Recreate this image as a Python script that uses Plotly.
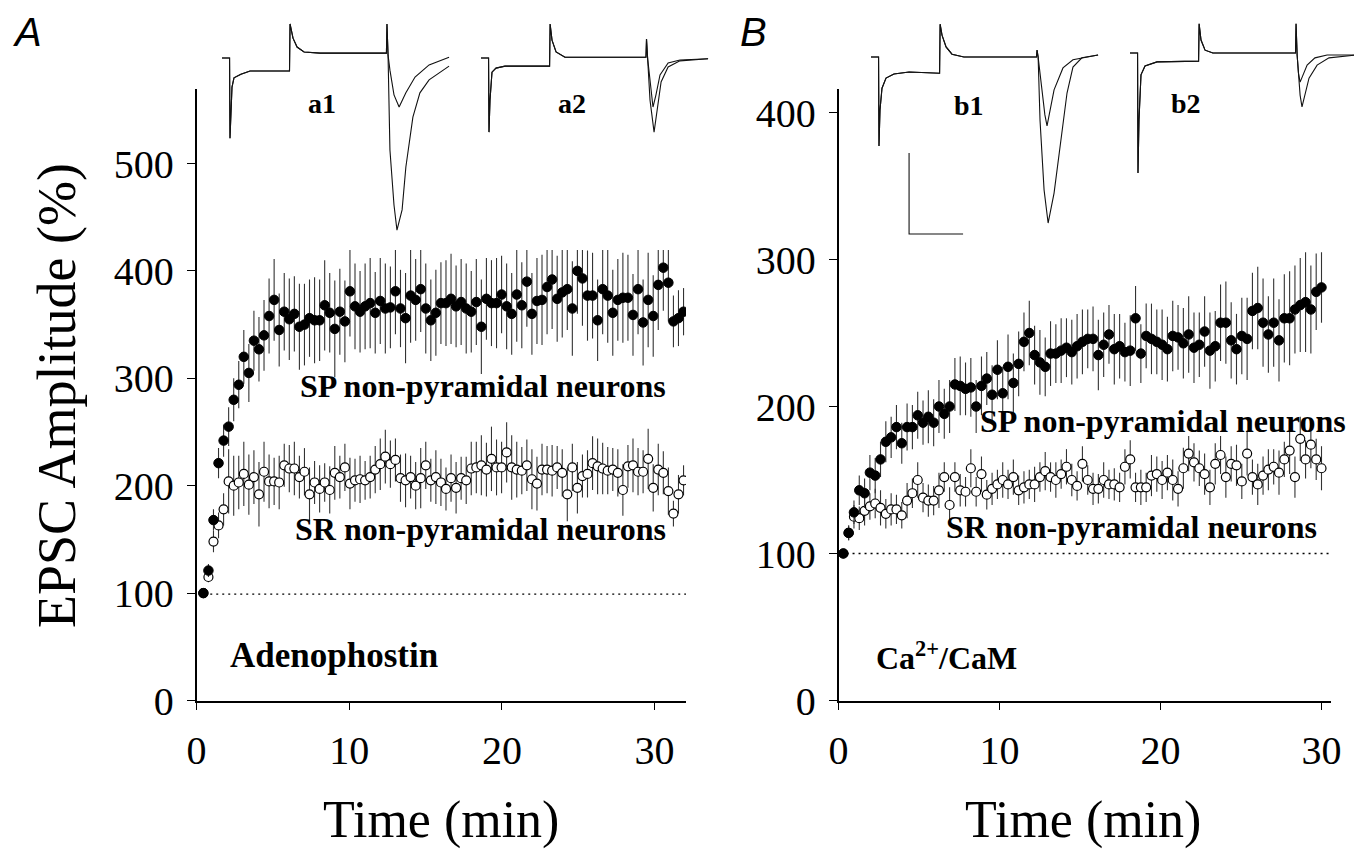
import plotly.graph_objects as go

# page body adds an 8 px margin, so the figure is 8 px smaller than the window
OFF = 8
W, H = 1362 - OFF, 851 - OFF

# ---------------- data: panel A (Adenophostin) ----------------
A_T0, A_DT = 0.45, 0.331          # first sample time and sampling interval (min)
sp_A = [100, 121, 168, 221, 242, 255, 280, 294, 320, 305, 335, 327, 340, 358, 373, 345,
        362, 355, 360, 348, 350, 356, 354, 354, 368, 361, 346, 362, 353, 381, 367, 362,
        367, 370, 361, 372, 365, 366, 381, 365, 356, 377, 373, 383, 365, 354, 361, 370,
        370, 374, 367, 371, 365, 362, 371, 348, 374, 370, 370, 378, 367, 360, 378, 368,
        390, 360, 372, 373, 385, 392, 374, 380, 383, 365, 400, 393, 377, 377, 354, 383,
        377, 361, 373, 375, 375, 359, 383, 352, 373, 358, 387, 403, 389, 353, 356, 362]
sp_A_err = [0, 6, 10, 14, 15, 18, 20, 22, 25, 27, 28, 30, 33, 35, 38, 34,
            36, 38, 35, 40, 38, 36, 40, 38, 42, 37, 45, 40, 38, 42, 40, 38,
            40, 42, 38, 40, 42, 38, 40, 36, 42, 44, 38, 40, 42, 38, 40, 38,
            40, 42, 38, 40, 42, 38, 40, 44, 38, 40, 42, 36, 40, 38, 44, 40,
            42, 38, 40, 42, 44, 46, 40, 42, 38, 44, 40, 44, 42, 40, 38, 42,
            44, 40, 38, 42, 40, 38, 42, 40, 44, 38, 42, 40, 36, 24, 26, 22]
sr_A = [100, 115, 148, 163, 178, 204, 200, 203, 211, 201, 208, 192, 213, 204, 204, 203,
        219, 216, 216, 208, 213, 192, 203, 197, 203, 196, 212, 208, 217, 202, 205, 206,
        205, 208, 215, 220, 227, 220, 224, 207, 205, 208, 200, 207, 219, 205, 208, 203,
        197, 207, 198, 207, 205, 216, 217, 219, 215, 225, 217, 217, 231, 217, 215, 214,
        219, 206, 202, 215, 215, 214, 217, 212, 192, 217, 198, 209, 211, 221, 218, 216,
        214, 215, 212, 196, 218, 219, 213, 213, 225, 198, 215, 212, 195, 174, 192, 205]
sr_A_err = [0, 5, 10, 12, 15, 30, 28, 25, 30, 28, 25, 30, 28, 25, 22, 25,
            20, 22, 25, 20, 22, 25, 20, 22, 18, 22, 25, 20, 22, 24, 20, 22,
            18, 20, 22, 24, 25, 22, 20, 22, 25, 20, 22, 28, 22, 20, 25, 22,
            20, 22, 24, 20, 22, 25, 24, 28, 25, 30, 26, 24, 28, 30, 26, 22,
            24, 28, 25, 24, 22, 24, 20, 22, 25, 22, 24, 20, 22, 25, 26, 24,
            22, 20, 22, 24, 20, 25, 22, 20, 28, 22, 24, 20, 22, 12, 18, 14]

# ---------------- data: panel B (Ca2+/CaM) ----------------
B_T0, B_DT = 0.30, 0.33
sp_B = [100, 114, 128, 143, 141, 155, 153, 164, 176, 179, 186, 175, 186, 186, 194, 189,
        193, 189, 200, 195, 200, 215, 214, 212, 213, 200, 214, 219, 208, 225, 209, 227,
        216, 229, 244, 250, 235, 230, 227, 236, 236, 238, 240, 237, 241,
        244, 246, 246, 235, 242, 249, 239, 241, 237, 238, 260, 236, 248, 246, 244, 242,
        239, 248, 247, 243, 249, 240, 242, 251, 238, 241, 257, 257, 245, 239, 248, 246,
        265, 267, 257, 249, 257, 245, 260, 260, 266, 269, 271, 266, 278, 281]
sp_B_err = [0, 5, 8, 10, 10, 12, 12, 12, 14, 14, 15, 14, 16, 15, 16, 15,
            18, 16, 18, 17, 18, 18, 20, 18, 20, 18, 20, 18, 20, 20, 18, 22,
            20, 22, 20, 22, 20, 22, 20, 22, 20, 22, 20, 22, 22,
            22, 20, 22, 24, 22, 20, 24, 22, 20, 24, 22, 20, 22, 24, 22, 24,
            22, 24, 22, 24, 26, 24, 22, 24, 26, 24, 26, 28, 26, 24, 26, 28,
            26, 28, 30, 26, 30, 28, 30, 32, 30, 32, 34, 30, 26, 24]
sr_B = [100, 114, 125, 124, 129, 132, 134, 131, 127, 130, 130, 126, 136, 141, 150, 138,
        136, 136, 143, 152, 133, 152, 143, 142, 158, 142, 154, 140, 144, 147, 150, 147,
        152, 143, 145, 147, 147, 152, 156, 152, 150, 154, 159, 150, 146, 161, 150, 144,
        144, 150, 147, 147, 145, 159, 164, 145, 145, 145, 153, 154, 150, 155, 150, 144,
        158, 168, 162, 158, 154, 145, 161, 167, 152, 161, 160, 149, 168, 152, 147, 153,
        157, 159, 155, 164, 170, 152, 178, 164, 174, 164, 158]
sr_B_err = [0, 5, 8, 8, 10, 9, 10, 12, 10, 11, 10, 9, 12, 10, 12, 10,
            11, 10, 12, 10, 12, 10, 11, 10, 13, 10, 12, 10, 11, 10, 12, 10,
            12, 10, 11, 10, 12, 10, 13, 10, 12, 10, 12, 11, 10, 12, 10, 11,
            10, 12, 10, 11, 10, 12, 13, 10, 12, 10, 14, 12, 13, 12, 14, 12,
            14, 12, 13, 12, 14, 12, 14, 13, 14, 12, 14, 12, 15, 12, 14, 13,
            14, 12, 15, 12, 16, 14, 15, 13, 16, 14, 15]

t_A = [round(A_T0 + k * A_DT, 3) for k in range(len(sp_A))]
t_B = [round(B_T0 + k * B_DT, 3) for k in range(len(sp_B))]

# ---------------- inset EPSC sweeps (ms, pA) ----------------
a1_pre_t = [0, 2.8, 2.96, 3.33, 3.7, 4.44, 7.0, 10.4, 25.0, 25.2, 26.3, 27.8, 30.4, 36.3, 60.9, 61.1, 61.5]
a1_pre_i = [0, 0, -198, -128, -72, -49, -40, -32, -32, 84, 49, 27, 15, 12, 12, 84, 7]
a1_ctl_t = [62.2, 63.7, 65.6, 68.1, 71.5, 76.7, 84.1]
a1_ctl_i = [-30, -91, -121, -86, -47, -17, 2]
a1_drug_t = [62.2, 63.7, 64.8, 66.7, 68.1, 70.7, 73.3, 76.7, 84.1]
a1_drug_i = [-227, -363, -425, -375, -269, -146, -86, -54, -20]

a2_pre_t = [0, 2.8, 2.96, 3.33, 4.07, 5.56, 8.9, 25.4, 25.6, 26.3, 27.8, 31.1, 61.1, 61.3, 61.7]
a2_pre_i = [0, 0, -183, -104, -35, -25, -20, -20, 84, 44, 15, 2, 2, 47, 0]
a2_ctl_t = [62.6, 63.7, 64.8, 66.3, 69.3, 73.7, 84.1]
a2_ctl_i = [-54, -121, -91, -42, -12, -5, -2]
a2_drug_t = [62.6, 64.1, 65.2, 66.7, 69.3, 73.7, 84.1]
a2_drug_i = [-104, -183, -128, -59, -22, -7, -2]

b1_pre_t = [0, 2.8, 2.96, 3.33, 4.07, 5.56, 8.5, 14.1, 25.4, 25.6, 26.3, 27.8, 30.0, 34.4, 61.3, 61.5, 61.9]
b1_pre_i = [0, 0, -220, -131, -77, -52, -42, -37, -40, 81, 54, 25, 7, 0, 0, 17, 0]
b1_ctl_t = [63.0, 64.4, 65.2, 67.8, 71.1, 74.8, 84.1]
b1_ctl_i = [-69, -143, -170, -81, -27, -7, 5]
b1_drug_t = [62.6, 64.1, 65.6, 67.8, 70.4, 72.6, 74.8, 78.1, 84.1]
b1_drug_i = [-156, -328, -410, -336, -205, -89, -25, -2, 5]

b2_pre_t = [0, 2.8, 2.96, 3.33, 4.07, 5.56, 10, 25.4, 25.6, 26.3, 27.8, 30.7, 61.3, 61.5, 61.9]
b2_pre_i = [0, 0, -296, -165, -54, -32, -22, -20, 72, 32, 7, 0, 0, 72, -5]
b2_ctl_t = [62.4, 63.0, 64.1, 65.6, 68.5, 73.0, 84.0]
b2_ctl_i = [-50, -72, -54, -30, -12, -5, -5]
b2_drug_t = [62.4, 63.0, 63.7, 64.8, 66.3, 69.3, 73.7, 84.0]
b2_drug_i = [-60, -104, -133, -104, -62, -30, -12, -5]

SCALE_MS, SCALE_PA = 20, 200

# ---------------- helpers (screen pixel -> paper fraction) ----------------
def px(x):
    return (x - OFF) / W

def py(y):
    return 1 - (y - OFF) / H

fig = go.Figure()

SERIF = "Liberation Serif"

def add_series(t, y, err, filled, xa, ya):
    if filled:
        marker = dict(size=9.5, color="black", line=dict(color="black", width=1))
    else:
        marker = dict(size=9, color="white", line=dict(color="black", width=1.2))
    fig.add_trace(go.Scatter(
        x=t, y=y, mode="markers", marker=marker,
        error_y=dict(type="data", array=err, visible=True, color="#333333",
                     thickness=1.1, width=0),
        xaxis=xa, yaxis=ya, showlegend=False, hoverinfo="skip"))

add_series(t_A, sr_A, sr_A_err, False, "x", "y")
add_series(t_A, sp_A, sp_A_err, True, "x", "y")
add_series(t_B, sr_B, sr_B_err, False, "x2", "y2")
add_series(t_B, sp_B, sp_B_err, True, "x2", "y2")

def add_sweep(pre_t, pre_i, tail_t, tail_i, xa, ya):
    fig.add_trace(go.Scatter(x=pre_t + tail_t, y=pre_i + tail_i, mode="lines",
                             line=dict(color="#111111", width=1.1),
                             xaxis=xa, yaxis=ya, showlegend=False, hoverinfo="skip"))

add_sweep(a1_pre_t, a1_pre_i, a1_ctl_t, a1_ctl_i, "x3", "y3")
add_sweep(a1_pre_t, a1_pre_i, a1_drug_t, a1_drug_i, "x3", "y3")
add_sweep(a2_pre_t, a2_pre_i, a2_ctl_t, a2_ctl_i, "x4", "y4")
add_sweep(a2_pre_t, a2_pre_i, a2_drug_t, a2_drug_i, "x4", "y4")
add_sweep(b1_pre_t, b1_pre_i, b1_ctl_t, b1_ctl_i, "x5", "y5")
add_sweep(b1_pre_t, b1_pre_i, b1_drug_t, b1_drug_i, "x5", "y5")
add_sweep(b2_pre_t, b2_pre_i, b2_ctl_t, b2_ctl_i, "x6", "y6")
add_sweep(b2_pre_t, b2_pre_i, b2_drug_t, b2_drug_i, "x6", "y6")

# scale bar (b1 inset coordinates)
bar_x0, bar_y0 = 14.1, -437
fig.add_trace(go.Scatter(x=[bar_x0, bar_x0, bar_x0 + SCALE_MS],
                         y=[bar_y0 + SCALE_PA, bar_y0, bar_y0],
                         mode="lines", line=dict(color="#111111", width=1.1),
                         xaxis="x5", yaxis="y5", showlegend=False, hoverinfo="skip"))

# ---------------- axes ----------------
Y0_PX, YTOP_PX = 700.5, 89
A_PX_PER_100, B_PX_PER_100 = 107.4, 147.0

axis_common = dict(showline=True, linecolor="black", linewidth=1.5, ticks="outside",
                   ticklen=8, tickwidth=1.3, tickcolor="black", showgrid=False,
                   zeroline=False, fixedrange=True, automargin=False,
                   tickfont=dict(family=SERIF, size=40, color="black"))

ydom = [py(Y0_PX), py(YTOP_PX)]
layout_axes = dict(
    xaxis=dict(domain=[px(196.5), px(686)], range=[0, (686 - 196.5) / 15.27],
               tickvals=[0, 10, 20, 30], anchor="y", ticklabelstandoff=6, **axis_common),
    yaxis=dict(domain=ydom, range=[0, (Y0_PX - YTOP_PX) / A_PX_PER_100 * 100],
               tickvals=[0, 100, 200, 300, 400, 500], anchor="x", ticklabelstandoff=5,
               **axis_common),
    xaxis2=dict(domain=[px(838.5), px(1331)], range=[0, (1331 - 838.5) / 16.1],
                tickvals=[0, 10, 20, 30], anchor="y2", ticklabelstandoff=6, **axis_common),
    yaxis2=dict(domain=ydom, range=[0, (Y0_PX - YTOP_PX) / B_PX_PER_100 * 100],
                tickvals=[0, 100, 200, 300, 400], anchor="x2", ticklabelstandoff=5,
                **axis_common),
)

# inset axes: 2.7 px per ms, 0.405 px per pA, occupying screen rows OFF..250
MS_PX, PA_PX, INSET_H = 2.7, 0.405, 250
inset_span_ms = 85
inset_specs = [("3", 222, 58), ("4", 481, 58), ("5", 871, 57), ("6", 1130, 53)]
for k, x0, base in inset_specs:
    layout_axes["xaxis" + k] = dict(domain=[px(x0), min(1.0, px(x0 + inset_span_ms * MS_PX))],
                                    range=[0, inset_span_ms], visible=False,
                                    anchor="y" + k, fixedrange=True, automargin=False)
    layout_axes["yaxis" + k] = dict(domain=[py(INSET_H), 1],
                                    range=[(base - INSET_H) / PA_PX, (base - OFF) / PA_PX],
                                    visible=False, anchor="x" + k, fixedrange=True,
                                    automargin=False)

fig.update_layout(width=W, height=H, margin=dict(l=0, r=0, t=0, b=0, pad=0),
                  paper_bgcolor="white", plot_bgcolor="white", showlegend=False,
                  hovermode=False, **layout_axes)

# baseline dotted lines at 100 %
fig.add_shape(type="line", xref="x", yref="y", x0=0.9, x1=(686 - 196.5) / 15.27, y0=99, y1=99,
              line=dict(color="black", width=1.4, dash="2px,4px"))
fig.add_shape(type="line", xref="x2", yref="y2", x0=0.5, x1=31.0, y0=100, y1=100,
              line=dict(color="black", width=1.4, dash="2px,4px"))

# ---------------- text ----------------
def note(text, x, y, size, family=SERIF, bold=False, angle=0, yanchor="middle"):
    fig.add_annotation(text=("<b>%s</b>" % text) if bold else text,
                       x=px(x), y=py(y), xref="paper", yref="paper",
                       xanchor="center", yanchor=yanchor, showarrow=False,
                       textangle=angle, font=dict(family=family, size=size, color="black"))

note("<i>A</i>", 27, OFF, 40, family="Liberation Sans", yanchor="top")
note("<i>B</i>", 753, OFF, 40, family="Liberation Sans", yanchor="top")
note("EPSC Amplitude (%)", 57, 396, 54, angle=-90)
note("Time (min)", 441, 851, 52, yanchor="bottom")
note("Time (min)", 1083, 851, 52, yanchor="bottom")
note("a1", 322, 104, 28, bold=True)
note("a2", 572, 104, 28, bold=True)
note("b1", 969, 106, 28, bold=True)
note("b2", 1186, 104, 28, bold=True)
note("SP non-pyramidal neurons", 483, 386, 32, bold=True)
note("SR non-pyramidal neurons", 480, 529, 32, bold=True)
note("SP non-pyramidal neurons", 1163, 421, 32, bold=True)
note("SR non-pyramidal neurons", 1131, 527, 32, bold=True)
note("Adenophostin", 334, 655, 35, bold=True)
note("Ca<sup>2+</sup>/CaM", 946, 656, 32, bold=True)

fig.write_html("out.html")
